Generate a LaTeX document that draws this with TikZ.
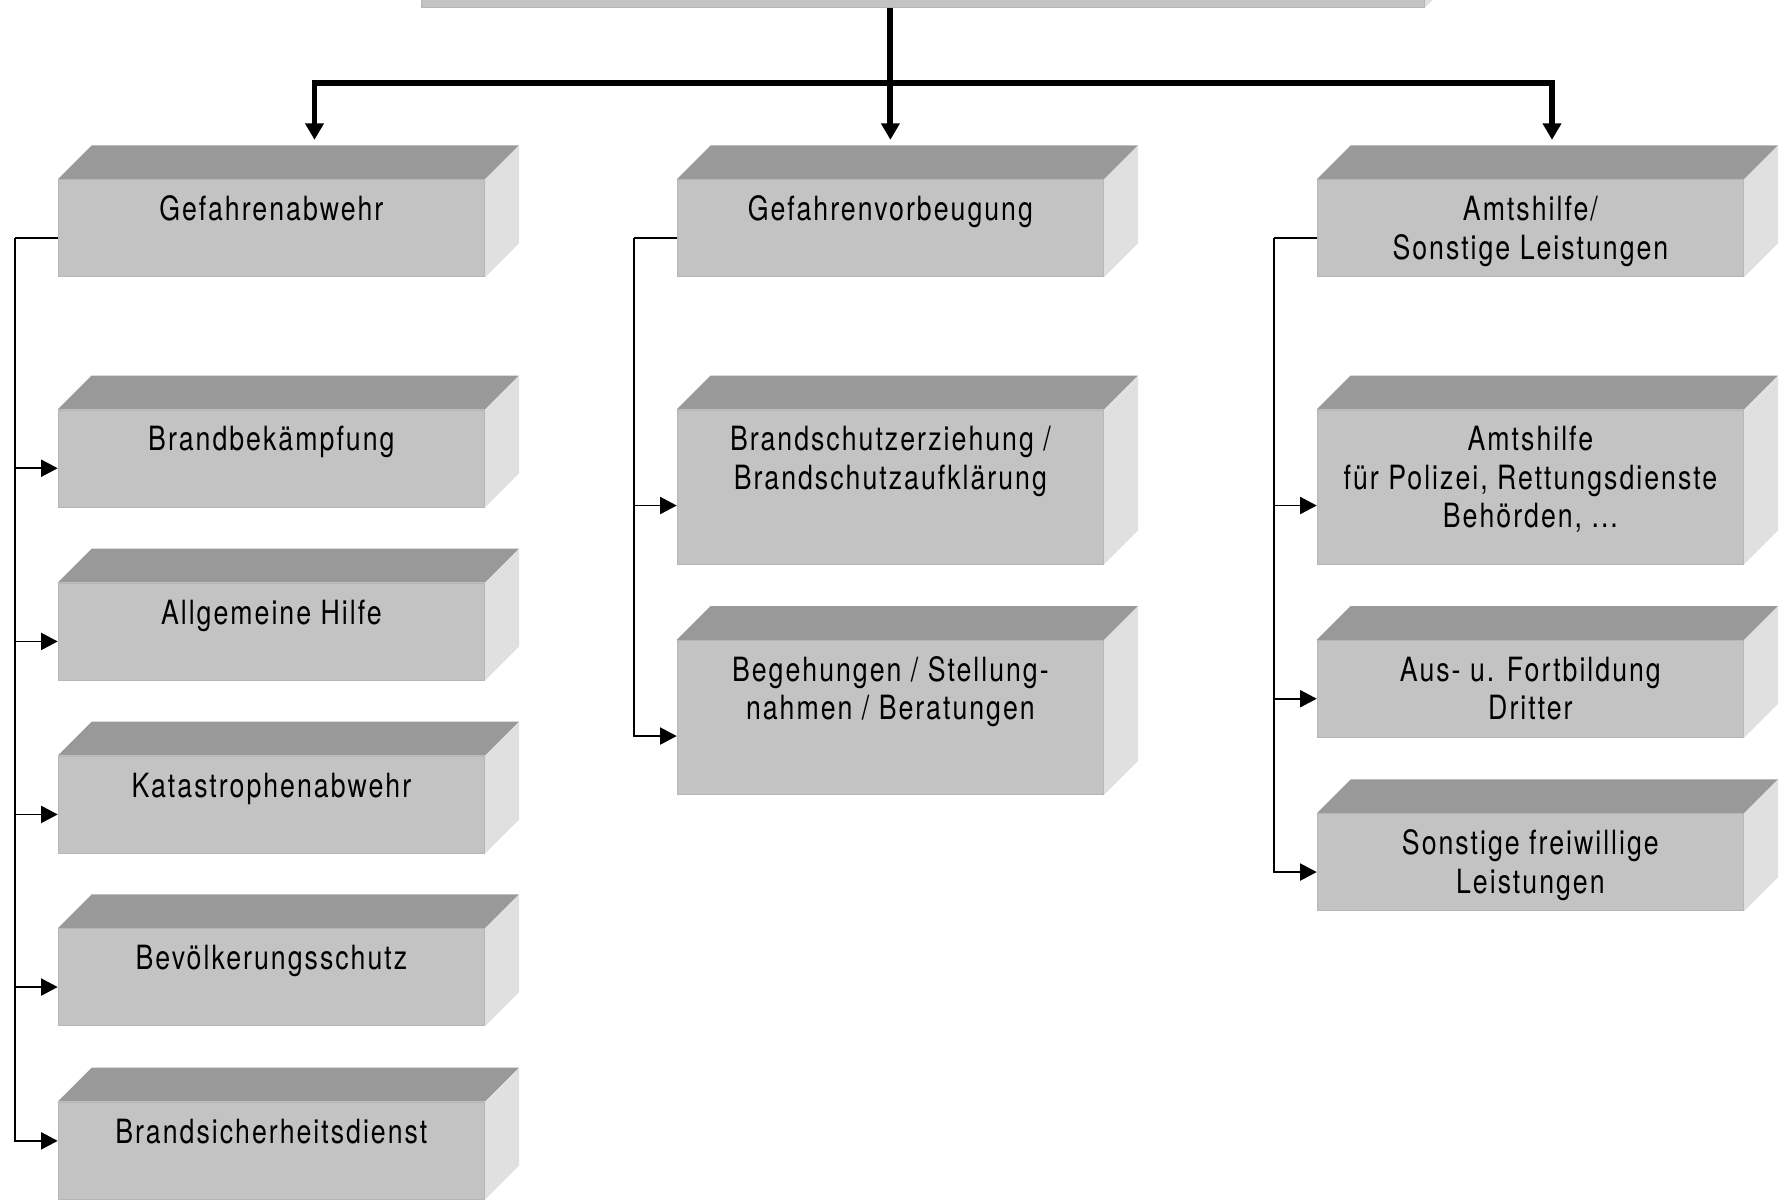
\documentclass[tikz,border=0pt]{standalone}
\usepackage{fontspec}
\newfontfamily\boxfont[FakeStretch=0.8,LetterSpace=6]{TeX Gyre Heros}
\usetikzlibrary{arrows.meta,calc}

\definecolor{frontgray}{RGB}{195,195,195}
\definecolor{topgray}{RGB}{153,153,153}
\definecolor{sidegray}{RGB}{224,224,224}
\definecolor{edgegray}{RGB}{182,182,182}

% text in several lines, baseline on the first line
\newcommand{\zeilen}[1]{\begin{tabular}[t]{@{}c@{}}#1\end{tabular}}

\begin{document}
\begin{tikzpicture}[
  block/.style={fill=frontgray,draw=edgegray,line width=0.5pt,anchor=north west,
    inner sep=0pt,minimum width=8.53cm,text height=0.82cm,
    font=\boxfont\fontsize{19}{21.9}\selectfont,
    append after command={\pgfextra{
      \fill[topgray] (\tikzlastnode.north west) -- ++(0.68,0.68)
        -- ([shift={(0.68,0.68)}]\tikzlastnode.north east)
        -- (\tikzlastnode.north east) -- cycle;
      \fill[sidegray] (\tikzlastnode.north east) -- ++(0.68,0.68)
        -- ([shift={(0.68,0.68)}]\tikzlastnode.south east)
        -- (\tikzlastnode.south east) -- cycle;}}},
  smallblock/.style={block,minimum height=1.94cm,text depth=1.12cm},
  bigblock/.style={block,minimum height=3.08cm,text depth=2.26cm},
  link/.style={line width=1pt},
  linkarrow/.style={link,-{Triangle[length=0.33cm,width=0.34cm]}},
  mainline/.style={line width=3.4pt,line join=miter},
  mainarrow/.style={mainline,-{Triangle[length=0.33cm,width=0.36cm]}}]

  \useasboundingbox (0,-24.04) rectangle (35.74,0);

  % top block, only its lower edge is in the picture
  \node[block,minimum height=2cm,minimum width=20.07cm] (top) at (8.414,1.866) {};

  % left column
  \node[smallblock] (ga) at (1.154,-3.586) {Gefahrenabwehr};
  \node[smallblock] (bb) at (1.154,-8.19) {Brandbekämpfung};
  \node[smallblock] (ah) at (1.154,-11.654) {Allgemeine Hilfe};
  \node[smallblock] (ka) at (1.154,-15.114) {Katastrophenabwehr};
  \node[smallblock] (bv) at (1.154,-18.566) {Bevölkerungsschutz};
  \node[smallblock] (bd) at (1.154,-22.034) {Brandsicherheitsdienst};

  % middle column
  \node[smallblock] (gv) at (13.534,-3.586) {Gefahrenvorbeugung};
  \node[bigblock] (be) at (13.534,-8.19)
    {\zeilen{Brandschutzerziehung /\\Brandschutzaufklärung}};
  \node[bigblock] (bg) at (13.534,-12.8)
    {\zeilen{Begehungen / Stellung-\\nahmen / Beratungen}};

  % right column
  \node[smallblock] (as) at (26.334,-3.586) {\zeilen{Amtshilfe/\\Sonstige Leistungen}};
  \node[bigblock] (ap) at (26.334,-8.19)
    {\zeilen{Amtshilfe\\für Polizei, Rettungsdienste\\Behörden, ...}};
  \node[smallblock] (af) at (26.334,-12.8) {\zeilen{Aus- u. Fortbildung\\Dritter}};
  \node[smallblock] (sf) at (26.334,-16.266) {\zeilen{Sonstige freiwillige\\Leistungen}};

  % main lines
  \coordinate (barl) at (6.29,-1.667);
  \coordinate (barr) at (31.04,-1.667);
  \coordinate (tip) at ([yshift=0.79cm]gv.north);
  \draw[mainarrow] (top.south -| tip) -- (tip);
  \draw[mainline,{Triangle[length=0.33cm,width=0.36cm]}-{Triangle[length=0.33cm,width=0.36cm]}]
    (barl |- tip) -- (barl) -- (barr) -- (barr |- tip);

  % branches inside the columns
  \draw[link] ($(ga.north west)!.6!(ga.south west)$) -- ++(-0.85,0) coordinate (lbus);
  \foreach \n/\p in {bb/.6,ah/.6,ka/.6,bv/.6,bd/.4}
    \draw[linkarrow] (lbus) |- ($(\n.north west)!\p!(\n.south west)$);
  \draw[link] ($(gv.north west)!.6!(gv.south west)$) -- ++(-0.85,0) coordinate (mbus);
  \foreach \n/\p in {be/.62,bg/.62}
    \draw[linkarrow] (mbus) |- ($(\n.north west)!\p!(\n.south west)$);
  \draw[link] ($(as.north west)!.6!(as.south west)$) -- ++(-0.85,0) coordinate (rbus);
  \foreach \n/\p in {ap/.62,af/.6,sf/.6}
    \draw[linkarrow] (rbus) |- ($(\n.north west)!\p!(\n.south west)$);
\end{tikzpicture}
\end{document}
